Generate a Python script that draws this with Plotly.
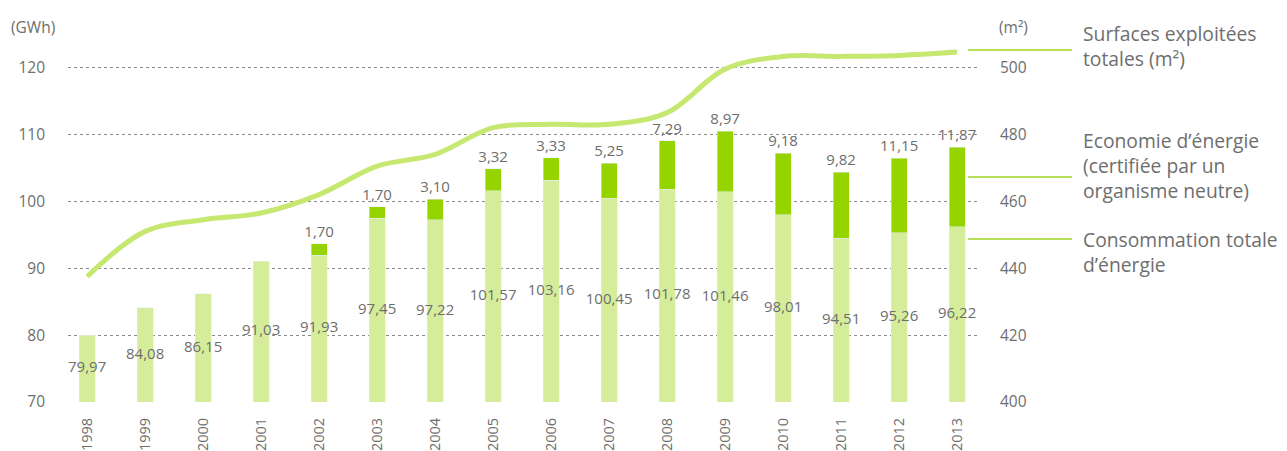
import plotly.graph_objects as go

years = ["1998", "1999", "2000", "2001", "2002", "2003", "2004", "2005",
         "2006", "2007", "2008", "2009", "2010", "2011", "2012", "2013"]
consommation = [79.97, 84.08, 86.15, 91.03, 91.93, 97.45, 97.22, 101.57,
                103.16, 100.45, 101.78, 101.46, 98.01, 94.51, 95.26, 96.22]
economie = [None, None, None, None, 1.70, 1.70, 3.10, 3.32,
            3.33, 5.25, 7.29, 8.97, 9.18, 9.82, 11.15, 11.87]
surfaces = [437.5, 451.0, 454.5, 456.5, 462.0, 470.5, 474.0, 482.0,
            483.0, 483.0, 486.5, 499.5, 503.3, 503.3, 503.6, 504.6]
left_ticks = [70, 80, 90, 100, 110, 120]
right_ticks = [400, 420, 440, 460, 480, 500]

def fr(v):
    return "" if v is None else f"{v:.2f}".replace(".", ",")

GRAY = "#6e6e6e"
LIGHT = "#d5ed9b"
DARK = "#96d400"
LINE = "#c6e870"
LEADER = "#9fd620"
FONT = "Open Sans"

# the page body adds an 8px offset; work in screenshot pixels and shift
OFF = 8
W, H = 1287 - OFF, 451 - OFF
L, R, T, B = 68 - OFF, 978 - OFF, 34 - OFF, 402 - OFF

def px(x):
    return (x - OFF - L) / (R - L)

def py(y):
    return (B - (y - OFF)) / (B - T)

fig = go.Figure()

fig.add_trace(go.Bar(
    x=years, y=consommation, marker_color=LIGHT, width=0.28,
    hoverinfo="skip", showlegend=False))
fig.add_trace(go.Bar(
    x=years, y=economie, marker_color=DARK, width=0.28,
    text=[fr(v) for v in economie], textposition="outside",
    textangle=0, constraintext="none",
    textfont=dict(color=GRAY, size=15, family=FONT), cliponaxis=False,
    hoverinfo="skip", showlegend=False))
# consumption labels centred in the visible part of each bar
fig.add_trace(go.Scatter(
    x=years, y=[(70 + v) / 2 for v in consommation], mode="text",
    text=[fr(v) for v in consommation],
    textfont=dict(color=GRAY, size=15, family=FONT),
    hoverinfo="skip", showlegend=False, cliponaxis=False))
fig.add_trace(go.Scatter(
    x=years, y=surfaces, yaxis="y2", mode="lines",
    line=dict(color=LINE, width=5, shape="spline", smoothing=1.0),
    hoverinfo="skip", showlegend=False))

fig.update_layout(
    width=W, height=H, barmode="stack",
    margin=dict(l=L, r=W - R, t=T, b=H - B, autoexpand=False),
    paper_bgcolor="white", plot_bgcolor="white",
    font=dict(family=FONT, color=GRAY, size=15),
    xaxis=dict(range=[-0.33, 15.36], tickangle=-90, showgrid=False,
               zeroline=False, showline=False, ticks="", automargin=False,
               ticklabelstandoff=12, tickfont=dict(size=14.5, color=GRAY)),
    yaxis=dict(range=[70, 125], tickvals=left_ticks, showgrid=True,
               gridcolor="#8a8a8a", griddash="dot", gridwidth=1,
               zeroline=False, showline=False, ticks="", automargin=False,
               ticklabelstandoff=22, tickfont=dict(size=15.5, color=GRAY)),
    yaxis2=dict(range=[400, 510], tickvals=right_ticks, overlaying="y",
                side="right", showgrid=False, zeroline=False, showline=False,
                ticks="", ticklabelstandoff=21, automargin=False,
                tickfont=dict(size=15.5, color=GRAY)),
)

ann = [
    dict(text="(GWh)", x=px(9), y=py(27), xanchor="left"),
    dict(text="(m²)", x=px(1013), y=py(27), xanchor="center"),
    dict(text="Surfaces exploitées<br>totales (m²)", x=px(1081), y=py(46),
         xanchor="left", font=dict(size=19.3)),
    dict(text="Economie d’énergie<br>(certifiée par un<br>organisme neutre)",
         x=px(1081), y=py(165), xanchor="left", font=dict(size=19.3)),
    dict(text="Consommation totale<br>d’énergie", x=px(1081), y=py(252),
         xanchor="left", font=dict(size=19.3)),
]
for a in ann:
    a.setdefault("font", dict(size=15.5))
    a["font"] = dict(family=FONT, color=GRAY, **a["font"])
    fig.add_annotation(xref="paper", yref="paper", yanchor="middle",
                       showarrow=False, align="left", **a)

for yy in (50, 177, 239):
    fig.add_shape(type="line", xref="paper", yref="paper",
                  x0=px(968), x1=px(1072), y0=py(yy), y1=py(yy),
                  line=dict(color=LEADER, width=1.5))

fig.write_html("out.html")
